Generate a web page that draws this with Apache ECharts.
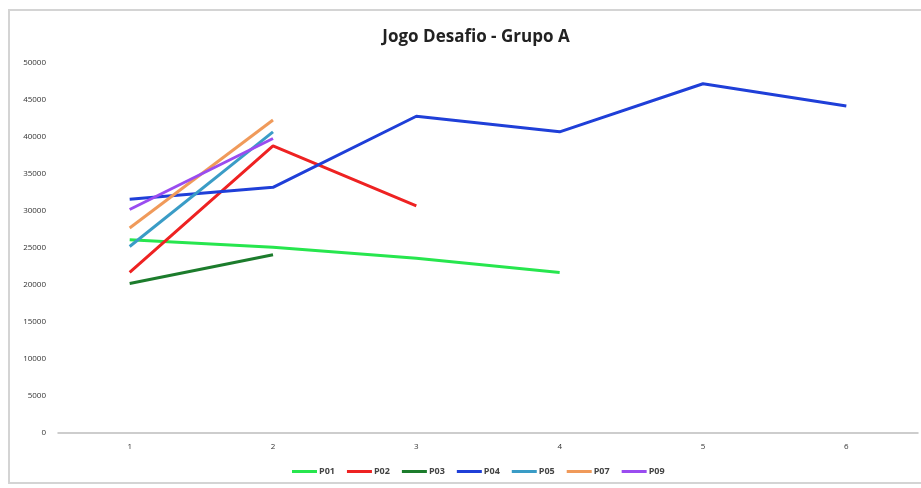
<!DOCTYPE html>
<html>
<head>
<meta charset="utf-8">
<script src="https://cdn.jsdelivr.net/npm/echarts@6/dist/echarts.min.js"></script>
<style>
  html, body { margin: 0; padding: 0; background: #ffffff; }
  #chart { width: 921px; height: 488px; }
</style>
</head>
<body>
<div id="chart"></div>
<script>
// Rounds of the game (x axis)
const rounds = ['1', '2', '3', '4', '5', '6'];

// Scores per player; '-' marks rounds a player did not play
const P01 = [26100, 25100, 23600, 21700, '-', '-'];
const P02 = [21700, 38800, 30700, '-', '-', '-'];
const P03 = [20200, 24100, '-', '-', '-', '-'];
const P04 = [31600, 33200, 42800, 40700, 47200, 44200];
const P05 = [25200, 40700, '-', '-', '-', '-'];
const P07 = [27700, 42300, '-', '-', '-', '-'];
const P09 = [30200, 39800, '-', '-', '-', '-'];

const players = [
  { name: 'P01', data: P01, color: '#27e64e' },
  { name: 'P02', data: P02, color: '#ee2222' },
  { name: 'P03', data: P03, color: '#1c7c2c' },
  { name: 'P04', data: P04, color: '#1f3fd8' },
  { name: 'P05', data: P05, color: '#3a9cc6' },
  { name: 'P07', data: P07, color: '#f09a5a' },
  { name: 'P09', data: P09, color: '#9a4cf0' }
];

const chart = echarts.init(document.getElementById('chart'), null, { renderer: 'canvas' });

chart.setOption({
  animation: false,
  backgroundColor: '#ffffff',
  title: {
    text: 'Jogo Desafio - Grupo A',
    left: 471,
    textAlign: 'center',
    top: 24,
    textStyle: {
      fontFamily: 'Open Sans',
      fontWeight: 'bold',
      fontSize: 17,
      color: '#222222'
    }
  },
  graphic: [{
    type: 'rect',
    shape: { x: 9, y: 10, width: 940, height: 473 },
    style: { fill: 'none', stroke: '#d4d4d4', lineWidth: 2 },
    silent: true
  }],
  legend: {
    bottom: 7,
    left: 287,
    itemWidth: 25,
    itemHeight: 3,
    itemGap: 12,
    icon: 'rect',
    textStyle: {
      fontFamily: 'Open Sans', fontSize: 9, color: '#444444', fontWeight: 'bold',
      padding: [0, 0, 0, -3]
    },
    data: players.map(p => p.name)
  },
  grid: { left: 58, right: 3, top: 63, bottom: 55, containLabel: false },
  xAxis: {
    type: 'category',
    data: rounds,
    boundaryGap: true,
    axisLine: { lineStyle: { color: '#bdbdbd', width: 1.5 } },
    axisTick: { show: false },
    axisLabel: { fontFamily: 'Open Sans', fontSize: 8, color: '#333333', margin: 10 }
  },
  yAxis: {
    type: 'value',
    min: 0,
    max: 50000,
    interval: 5000,
    axisLine: { show: false },
    axisTick: { show: false },
    splitLine: { show: false },
    axisLabel: {
      fontFamily: 'Open Sans', fontSize: 8, color: '#333333', margin: 12,
      formatter: v => String(v)
    }
  },
  series: players.map(p => ({
    name: p.name,
    type: 'line',
    data: p.data,
    symbol: 'none',
    color: p.color,
    lineStyle: { width: 3, color: p.color }
  }))
});
</script>
</body>
</html>
